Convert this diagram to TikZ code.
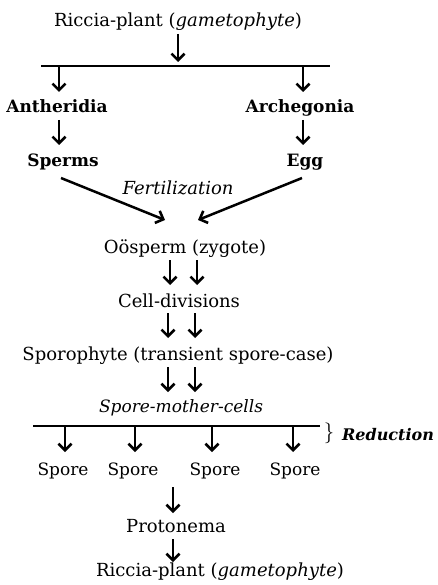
\documentclass[tikz,border=0pt]{standalone}
\usepackage{fontspec}
\setmainfont{DejaVu Serif}
\usetikzlibrary{arrows.meta}
\begin{document}
\begin{tikzpicture}[x=1pt,y=-1pt,line width=2.5pt,
  arr/.style={-{Straight Barb[length=6.5pt,width=13pt,line width=2.6pt]}},
  lbl/.style={anchor=base,inner sep=0pt,font=\fontsize{18}{21}\selectfont},
  bold/.style={lbl,font=\fontsize{17}{20}\selectfont\bfseries}]
\useasboundingbox (0,0) rectangle (438,585);
% nodes
\node[lbl] (top) at (178,27) {Riccia-plant\ (\textit{gametophyte})};
\node[bold] (anth) at (57,113) {Antheridia};
\node[bold] (arch) at (300,113) {Archegonia};
\node[bold] (sperm) at (63,167) {Sperms};
\node[bold] (egg) at (305,167) {Egg};
\node[lbl,font=\fontsize{18}{21}\selectfont\itshape] (fert) at (178,195) {Fertilization};
\node[lbl] (oos) at (185,253) {O\"osperm (zygote)};
\node[lbl] (cell) at (179,307) {Cell-divisions};
\node[lbl] (spph) at (178,360) {Sporophyte (transient spore-case)};
\node[lbl,font=\fontsize{17}{20}\selectfont\itshape] (smc) at (181,412) {Spore-mother-cells};
\node[lbl,font=\fontsize{16}{19}\selectfont\bfseries\itshape] (red) at (388,440) {Reduction};
\node[lbl,font=\fontsize{17}{20}\selectfont] (s1) at (63,475) {Spore};
\node[lbl,font=\fontsize{17}{20}\selectfont] (s2) at (133,475) {Spore};
\node[lbl,font=\fontsize{17}{20}\selectfont] (s3) at (215,475) {Spore};
\node[lbl,font=\fontsize{17}{20}\selectfont] (s4) at (295,475) {Spore};
\node[lbl] (prot) at (176,532) {Protonema};
\node[lbl] (bot) at (220,576) {Riccia-plant\ (\textit{gametophyte})};
\node[inner sep=0pt,font=\fontsize{20}{22}\selectfont] (brace) at (329,433) {$\}$};
% coordinates
\coordinate (b1l) at (41,66); \coordinate (b1r) at (330,66);
\coordinate (b1c) at (178,62);
\coordinate (b1a) at (59,66); \coordinate (b1b) at (303,66);
\coordinate (b2l) at (33,426); \coordinate (b2r) at (320,426);
% connectors
\draw[arr] (178,34) -- (b1c);
\draw (b1l) -- (b1r);
\draw[arr] (b1a) -- (59,92);
\draw[arr] (b1b) -- (303,92);
\draw[arr] (59,120) -- (59,145);
\draw[arr] (303,120) -- (303,145);
\draw[arr] (61,178) -- (165,220);
\draw[arr] (302,178) -- (198,220);
\draw[arr] (170,260) -- (170,285);
\draw[arr] (197,260) -- (197,285);
\draw[arr] (168,313) -- (168,338);
\draw[arr] (195,313) -- (195,338);
\draw[arr] (168,367) -- (168,392);
\draw[arr] (195,367) -- (195,392);
\draw (b2l) -- (b2r);
\foreach \x in {65,135,212,293} \draw[arr] (\x,426) -- (\x,452);
\draw[arr] (173,487) -- (173,513);
\draw[arr] (173,539) -- (173,562);
\end{tikzpicture}
\end{document}
